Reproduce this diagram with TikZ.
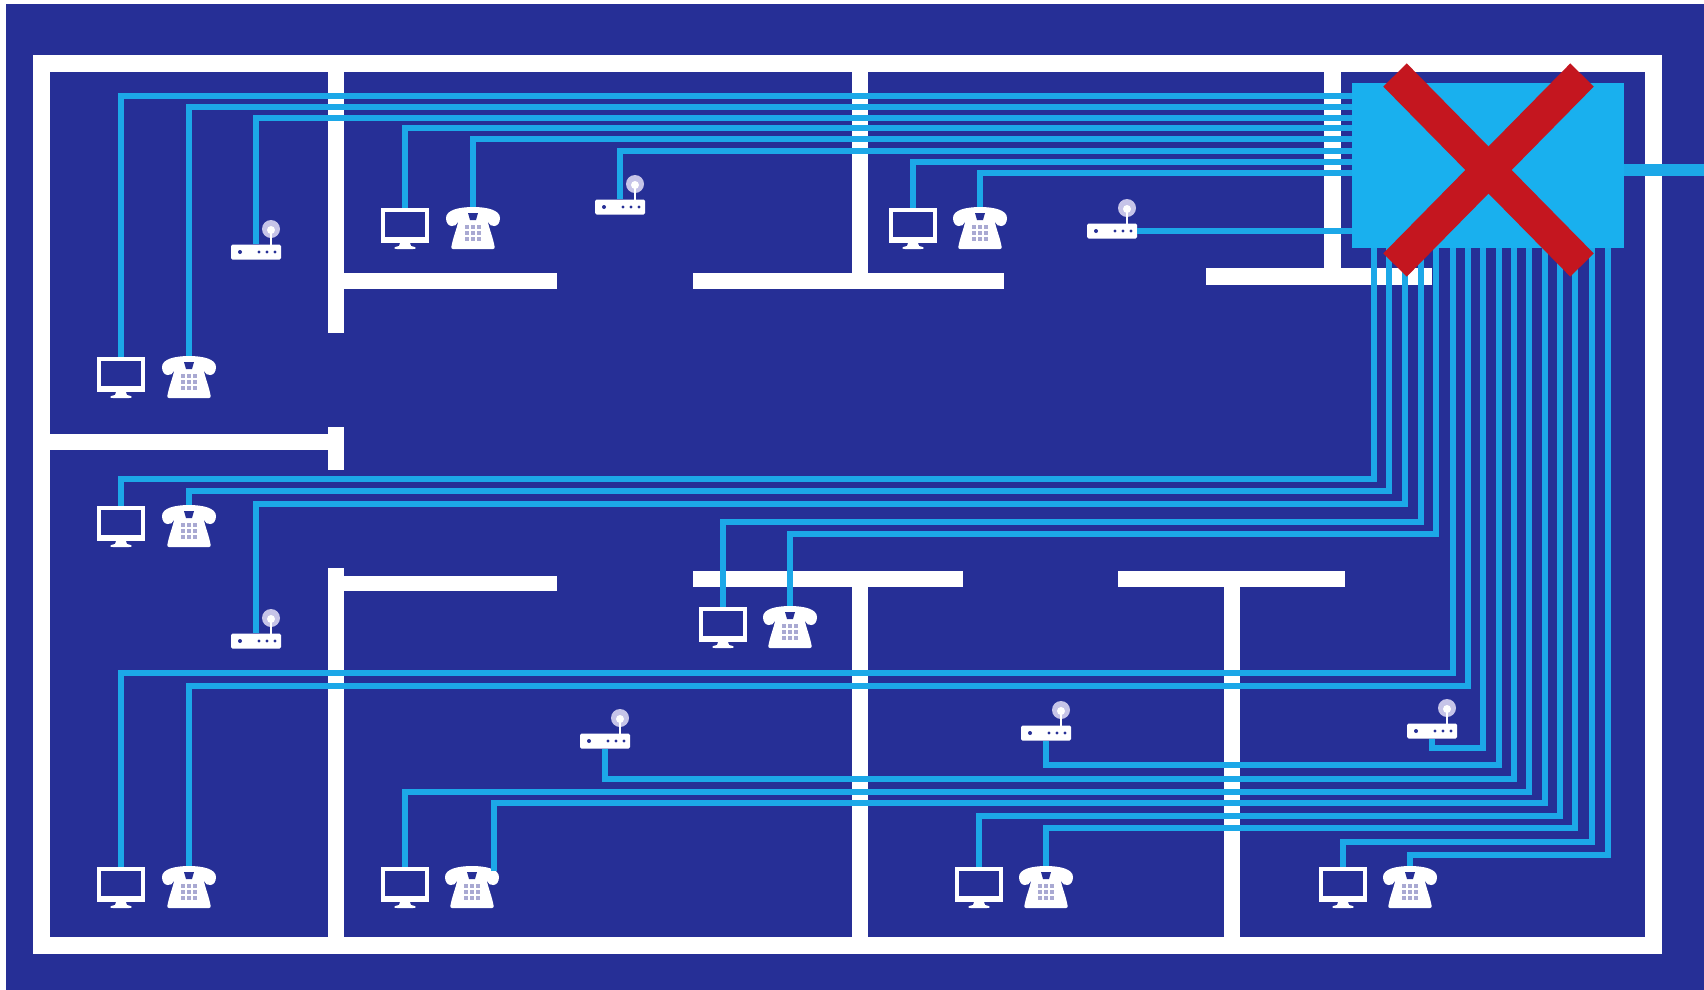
\documentclass[tikz,border=0pt]{standalone}
\usepackage{xcolor}
\usetikzlibrary{arrows.meta, positioning}
\definecolor{floorblue}{HTML}{262F96}
\definecolor{cable}{HTML}{1CA8E8}
\definecolor{hub}{HTML}{19B0EE}
\definecolor{cross}{HTML}{C4161F}
\definecolor{keypad}{HTML}{A9A9D2}
\definecolor{signal}{HTML}{C6C4E8}

\tikzset{
      wall/.style={fill=white},
      wire/.style={draw=cable, line width=6pt},
      uplink/.style={draw=cable, line width=12pt},
      switchbox/.style={fill=hub, minimum width=272pt, minimum height=165pt, inner sep=0pt},
      screen/.style={draw=white, line width=4pt, minimum width=44pt, minimum height=29pt, inner sep=0pt},
      routerbox/.style={fill=white, rounded corners=1.5pt, minimum width=50pt, minimum height=15pt, inner sep=0pt},
      monitor/.pic={
            \node[screen] (-screen) at (0,17) {};
            \fill[white] (-24,30) rectangle (24,36);
            \fill[white] (-5,36) -- (5,36) -- (6,39) .. controls (12,40) and (12,42) .. (8,42) -- (-8,42) .. controls (-12,42) and (-12,40) .. (-6,39) -- cycle;
      },
      phone/.pic={
            \node[inner sep=0pt, minimum size=0pt] (-top) at (0,0) {};
            \fill[white] (-27,11) .. controls (-27,3) and (-14,0) .. (0,0) .. controls (14,0) and (27,3) .. (27,11) .. controls (27,21) and (17,21) .. (15,15) -- (-15,15) .. controls (-17,21) and (-27,21) .. (-27,11) -- cycle;
            \fill[white, rounded corners=2pt] (-14,10) -- (14,10) .. controls (16,22) and (20,30) .. (22,42) -- (-22,42) .. controls (-20,30) and (-16,22) .. (-14,10) -- cycle;
            \fill[floorblue] (-5,6) -- (5,6) -- (3,13) -- (-3,13) -- cycle;
            \fill[keypad] (-8,18) rectangle (8,34);
            \foreach \gx in {-3,3} {\draw[white, line width=1.2pt] (\gx,18) -- (\gx,34);}
            \foreach \gy in {23,29} {\draw[white, line width=1.2pt] (-8,\gy) -- (8,\gy);}
      },
      router/.pic={
            \node[routerbox] (-box) at (0,0) {};
            \fill[floorblue] (-16,0) circle (2pt);
            \foreach \dx in {3,11,19} {\fill[floorblue] (\dx,0) circle (1.6pt);}
            \fill[signal] (15,-23) circle (9pt);
            \fill[white] (15,-22) circle (4pt);
            \draw[white, line width=2.5pt] (15,-22) -- (15,-7);
      },
}

\begin{document}
\begin{tikzpicture}[x=1pt, y=-1pt]
      \useasboundingbox (0,0) rectangle (1704,989);
      \fill[white] (0,0) rectangle (1704,989);
      \fill[floorblue] (6,4) rectangle (1710,995);

      % Walls
      \draw[white, line width=17pt] (41.5,63.5) rectangle (1653.5,945.5);
      \foreach \xa/\ya/\xb/\yb in {
                  328/72/344/333, 852/72/868/273, 1324/72/1341/270,
                  344/273/557/289, 693/273/1004/289, 1206/268/1432/285,
                  50/434/328/450, 328/427/344/470,
                  328/568/344/937, 344/576/557/591, 693/571/963/587, 852/587/868/937,
                  1118/571/1345/587, 1224/587/1240/937} {
            \fill[wall] (\xa,\ya) rectangle (\xb,\yb);
      }

      \node[switchbox] (sw) at (1488,165.5) {};
      \coordinate (wan) at (1704,170);
      \coordinate (p7wire) at (494,871);

      % Upper rooms
      \pic (m1) at (121,356) {monitor};
      \pic (p1) at (189,356) {phone};
      \pic (r1) at (256,252) {router};
      \pic (m2) at (405,207) {monitor};
      \pic (p2) at (473,207) {phone};
      \pic (r2) at (620,207) {router};
      \pic (m3) at (913,207) {monitor};
      \pic (p3) at (980,207) {phone};
      \pic (r3) at (1112,231) {router};

      % Corridor
      \pic (m4) at (121,505) {monitor};
      \pic (p4) at (189,505) {phone};
      \pic (r4) at (256,641) {router};
      \pic (m5) at (723,606) {monitor};
      \pic (p5) at (790,606) {phone};

      % Lower rooms
      \pic (m6) at (121,866) {monitor};
      \pic (p6) at (189,866) {phone};
      \pic (r5) at (605,741) {router};
      \pic (r6) at (1046,733) {router};
      \pic (r7) at (1432,731) {router};
      \pic (m7) at (405,866) {monitor};
      \pic (p7) at (472,866) {phone};
      \pic (m8) at (979,866) {monitor};
      \pic (p8) at (1046,866) {phone};
      \pic (m9) at (1343,866) {monitor};
      \pic (p9) at (1410,866) {phone};

      % Cables into the left side
      \foreach \dev/\yy in {
                  m1-screen.north/96, p1-top/107, r1-box.north/118, m2-screen.north/128,
                  p2-top/139, r2-box.north/151, m3-screen.north/162, p3-top/173} {
            \draw[wire] (\dev) |- (sw.west |- 0,\yy);
      }
      \draw[wire] (r3-box.east) -- (sw.west |- r3-box.east);

      % Cables out of the bottom side
      \foreach \dev/\xx/\yy in {
                  m4-screen.north/1374/479, p4-top/1389/491, r4-box.north/1405/504,
                  m5-screen.north/1421/522, p5-top/1436/534,
                  m6-screen.north/1453/673, p6-top/1468/686,
                  r7-box.south/1483/748, r6-box.south/1499/765, r5-box.south/1514/779,
                  m7-screen.north/1529/792, p7wire/1545/803,
                  m8-screen.north/1560/816, p8-top/1575/828,
                  m9-screen.north/1592/842, p9-top/1608/855} {
            \draw[wire] (\dev) |- (\xx,\yy) -- (\xx,0 |- sw.south);
      }

      \draw[uplink] (sw.east |- wan) -- (wan);

      % Failed switch
      \draw[cross, line width=33pt] (1395,75) -- (1582,265);
      \draw[cross, line width=33pt] (1582,75) -- (1395,265);
\end{tikzpicture}
\end{document}
